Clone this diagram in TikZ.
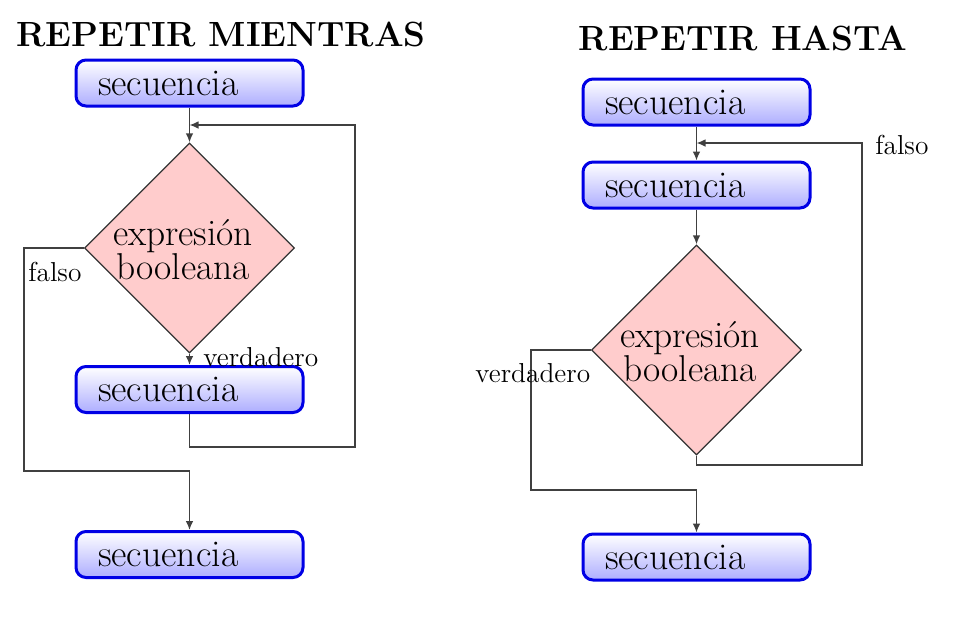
\documentclass[tikz,border=0pt]{standalone}
\usetikzlibrary{shapes.geometric,arrows.meta}
\begin{document}
\begin{tikzpicture}[x=0.5pt,y=-0.5pt,
  seqbox/.style={rectangle, rounded corners=5pt, draw=blue!90!black, line width=1.5pt,
    top color=white, bottom color=blue!32, minimum width=113.5pt, minimum height=23pt,
    text width=91.5pt, inner xsep=11pt, inner ysep=0pt, align=left,
    font=\fontsize{18.9}{20}\selectfont},
  dec/.style={diamond, aspect=1, minimum size=105pt, inner sep=0pt, draw=black!80,
    line width=0.6pt, fill=red!20},
  dectext/.style={align=center, font=\fontsize{18.7}{17}\selectfont, inner sep=0pt},
  conn/.style={draw=black!75, line width=0.7pt},
  arr/.style={conn, -{Latex[length=4.5pt,width=3.8pt]}},
  lab/.style={font=\fontsize{13.7}{15}\selectfont, inner sep=0pt},
  ttl/.style={font=\fontsize{17.5}{20}\selectfont\bfseries, inner sep=0pt}]
\useasboundingbox (0,0) rectangle (954,628);
% titles
\node[ttl] (t1) at (221,34) {REPETIR MIENTRAS};
\node[ttl] (t2) at (743,38) {REPETIR HASTA};
% left chart
\node[seqbox] (b1) at (189.5,83) {secuencia};
\node[dec] (d1) at (189.5,248) {};
\node[dectext] (d1t) at (183,250) {expresión\\booleana};
\node[seqbox] (b2) at (189.5,389.5) {secuencia};
\node[seqbox] (b3) at (189.5,554.5) {secuencia};
\coordinate (j1) at (189.5,125);
\coordinate (r1) at (355,447);
\coordinate (l1) at (24,471);
\draw[arr] (b1.south) -- (d1.north);
\draw[arr] (d1.south) -- (b2.north);
\draw[arr] (b2.south) |- (r1) |- (j1);
\draw[arr] (d1.west) -| (l1) -| (b3.north);
\node[lab, anchor=west] (f1) at (28,272) {falso};
\node[lab, anchor=west] (v1) at (203,357) {verdadero};
% right chart
\node[seqbox] (bA) at (696.5,102) {secuencia};
\node[seqbox] (bB) at (696.5,185) {secuencia};
\node[dec] (d2) at (696.5,350) {};
\node[dectext] (d2t) at (690,352) {expresión\\booleana};
\node[seqbox] (bC) at (696.5,557) {secuencia};
\coordinate (j2) at (696.5,143);
\coordinate (r2) at (862,465);
\coordinate (l2) at (531,490);
\draw[arr] (bA.south) -- (bB.north);
\draw[arr] (bB.south) -- (d2.north);
\draw[arr] (d2.south) |- (r2) |- (j2);
\draw[arr] (d2.west) -| (l2) -| (bC.north);
\node[lab, anchor=west] (f2) at (875,145) {falso};
\node[lab, anchor=west] (v2) at (475,373) {verdadero};
\end{tikzpicture}
\end{document}
